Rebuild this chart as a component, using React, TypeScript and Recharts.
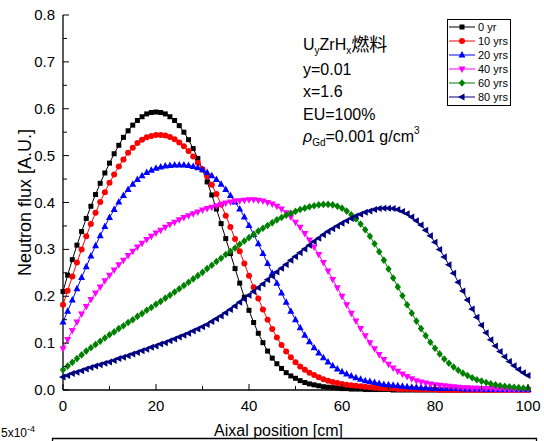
import React from 'react';
import { LineChart, Line, XAxis, YAxis, Legend } from 'recharts';

// axial position (cm), one sample per cm
const positions = [
  0, 1, 2, 3, 4, 5, 6, 7, 8, 9, 10, 11, 12, 13, 14, 15, 16, 17, 18, 19, 20,
  21, 22, 23, 24, 25, 26, 27, 28, 29, 30, 31, 32, 33, 34, 35, 36, 37, 38, 39, 40,
  41, 42, 43, 44, 45, 46, 47, 48, 49, 50, 51, 52, 53, 54, 55, 56, 57, 58, 59, 60,
  61, 62, 63, 64, 65, 66, 67, 68, 69, 70, 71, 72, 73, 74, 75, 76, 77, 78, 79, 80,
  81, 82, 83, 84, 85, 86, 87, 88, 89, 90, 91, 92, 93, 94, 95, 96, 97, 98, 99, 100,
];

const flux0yr = [
  0.210, 0.245, 0.278, 0.309, 0.338, 0.366, 0.392, 0.417, 0.441, 0.463,
  0.484, 0.504, 0.522, 0.539, 0.553, 0.565, 0.575, 0.583, 0.589, 0.592,
  0.593, 0.592, 0.589, 0.583, 0.575, 0.564, 0.550, 0.534, 0.515, 0.494,
  0.470, 0.444, 0.416, 0.386, 0.355, 0.323, 0.291, 0.259, 0.228, 0.198,
  0.170, 0.144, 0.121, 0.101, 0.083, 0.068, 0.056, 0.046, 0.037, 0.030,
  0.025, 0.020, 0.016, 0.013, 0.011, 0.009, 0.007, 0.006, 0.005, 0.004,
  0.003, 0.003, 0.002, 0.002, 0.002, 0.001, 0.001, 0.001, 0.001, 0.001,
  0.001, 0, 0, 0, 0, 0, 0, 0, 0, 0,
  0, 0, 0, 0, 0, 0, 0, 0, 0, 0,
  0, 0, 0, 0, 0, 0, 0, 0, 0, 0,
  0,
];

const flux10yr = [
  0.182, 0.212, 0.242, 0.272, 0.300, 0.328, 0.354, 0.378, 0.401, 0.422,
  0.442, 0.460, 0.477, 0.492, 0.506, 0.517, 0.527, 0.534, 0.539, 0.542,
  0.544, 0.544, 0.543, 0.540, 0.535, 0.528, 0.520, 0.510, 0.498, 0.485,
  0.471, 0.456, 0.438, 0.418, 0.396, 0.372, 0.348, 0.322, 0.296, 0.270,
  0.244, 0.219, 0.195, 0.172, 0.150, 0.130, 0.112, 0.096, 0.082, 0.070,
  0.059, 0.050, 0.043, 0.037, 0.032, 0.027, 0.023, 0.020, 0.017, 0.015,
  0.013, 0.011, 0.010, 0.009, 0.008, 0.007, 0.006, 0.005, 0.004, 0.004,
  0.003, 0.003, 0.002, 0.002, 0.002, 0.002, 0.001, 0.001, 0.001, 0.001,
  0.001, 0, 0, 0, 0, 0, 0, 0, 0, 0,
  0, 0, 0, 0, 0, 0, 0, 0, 0, 0,
  0,
];

const flux20yr = [
  0.145, 0.168, 0.192, 0.216, 0.240, 0.263, 0.286, 0.308, 0.329, 0.349,
  0.368, 0.385, 0.401, 0.415, 0.428, 0.439, 0.449, 0.457, 0.464, 0.469,
  0.473, 0.476, 0.478, 0.479, 0.480, 0.480, 0.480, 0.479, 0.477, 0.474,
  0.470, 0.464, 0.457, 0.449, 0.439, 0.428, 0.415, 0.401, 0.386, 0.369,
  0.351, 0.332, 0.312, 0.291, 0.270, 0.249, 0.228, 0.207, 0.187, 0.168,
  0.150, 0.133, 0.117, 0.103, 0.090, 0.079, 0.069, 0.060, 0.052, 0.045,
  0.039, 0.034, 0.030, 0.026, 0.023, 0.020, 0.018, 0.016, 0.014, 0.012,
  0.011, 0.010, 0.009, 0.008, 0.007, 0.006, 0.006, 0.005, 0.005, 0.004,
  0.004, 0.003, 0.003, 0.003, 0.003, 0.003, 0.002, 0.002, 0.002, 0.002,
  0.002, 0.001, 0.001, 0.001, 0.001, 0.001, 0.001, 0.001, 0.001, 0.001,
  0.001,
];

const flux40yr = [
  0.088, 0.108, 0.127, 0.145, 0.162, 0.178, 0.193, 0.207, 0.220, 0.233,
  0.245, 0.256, 0.267, 0.277, 0.287, 0.296, 0.305, 0.313, 0.321, 0.328,
  0.335, 0.341, 0.347, 0.353, 0.358, 0.363, 0.368, 0.372, 0.376, 0.380,
  0.384, 0.387, 0.390, 0.393, 0.396, 0.399, 0.401, 0.403, 0.404, 0.405,
  0.406, 0.406, 0.405, 0.403, 0.400, 0.397, 0.392, 0.386, 0.378, 0.369,
  0.358, 0.347, 0.334, 0.320, 0.305, 0.289, 0.272, 0.254, 0.236, 0.218,
  0.200, 0.182, 0.164, 0.147, 0.131, 0.116, 0.101, 0.088, 0.076, 0.065,
  0.055, 0.047, 0.040, 0.034, 0.029, 0.024, 0.020, 0.017, 0.015, 0.013,
  0.011, 0.010, 0.009, 0.008, 0.007, 0.006, 0.005, 0.005, 0.004, 0.004,
  0.003, 0.003, 0.003, 0.002, 0.002, 0.002, 0.001, 0.001, 0.001, 0.001,
  0.001,
];

const flux60yr = [
  0.043, 0.051, 0.059, 0.067, 0.075, 0.083, 0.090, 0.097, 0.104, 0.111,
  0.118, 0.124, 0.131, 0.137, 0.144, 0.150, 0.157, 0.163, 0.170, 0.176,
  0.183, 0.189, 0.196, 0.202, 0.209, 0.216, 0.223, 0.230, 0.237, 0.244,
  0.251, 0.259, 0.266, 0.274, 0.281, 0.289, 0.296, 0.303, 0.311, 0.318,
  0.325, 0.332, 0.339, 0.345, 0.351, 0.357, 0.363, 0.368, 0.373, 0.377,
  0.381, 0.385, 0.388, 0.391, 0.393, 0.395, 0.396, 0.396, 0.395, 0.392,
  0.388, 0.382, 0.374, 0.365, 0.354, 0.342, 0.328, 0.312, 0.295, 0.277,
  0.258, 0.239, 0.220, 0.201, 0.182, 0.164, 0.147, 0.131, 0.116, 0.102,
  0.089, 0.077, 0.066, 0.057, 0.049, 0.042, 0.036, 0.031, 0.026, 0.022,
  0.019, 0.016, 0.013, 0.011, 0.009, 0.008, 0.007, 0.006, 0.005, 0.004,
  0.004,
];

const flux80yr = [
  0.028, 0.031, 0.035, 0.038, 0.041, 0.045, 0.048, 0.051, 0.054, 0.057,
  0.060, 0.063, 0.067, 0.070, 0.073, 0.077, 0.080, 0.084, 0.087, 0.091,
  0.094, 0.098, 0.101, 0.105, 0.109, 0.113, 0.117, 0.121, 0.126, 0.130,
  0.135, 0.140, 0.146, 0.152, 0.158, 0.165, 0.172, 0.179, 0.187, 0.194,
  0.202, 0.210, 0.218, 0.226, 0.235, 0.243, 0.252, 0.260, 0.268, 0.277,
  0.285, 0.293, 0.301, 0.309, 0.317, 0.324, 0.331, 0.338, 0.344, 0.350,
  0.356, 0.361, 0.366, 0.371, 0.375, 0.379, 0.382, 0.385, 0.387, 0.388,
  0.388, 0.387, 0.385, 0.381, 0.376, 0.369, 0.361, 0.352, 0.341, 0.329,
  0.315, 0.300, 0.284, 0.267, 0.249, 0.230, 0.211, 0.192, 0.173, 0.155,
  0.138, 0.122, 0.107, 0.094, 0.082, 0.071, 0.061, 0.052, 0.044, 0.037,
  0.031,
];

const xTicks = [0, 10, 20, 30, 40, 50, 60, 70, 80, 90, 100];
const yTicks = [0, 0.05, 0.1, 0.15, 0.2, 0.25, 0.3, 0.35, 0.4, 0.45, 0.5, 0.55, 0.6, 0.65, 0.7, 0.75, 0.8];

const series = [
  { key: 'y0', name: '0 yr', color: '#000000', shape: 'square', values: flux0yr },
  { key: 'y10', name: '10 yrs', color: '#ff0000', shape: 'circle', values: flux10yr },
  { key: 'y20', name: '20 yrs', color: '#0000ff', shape: 'up', values: flux20yr },
  { key: 'y40', name: '40 yrs', color: '#ff00ff', shape: 'down', values: flux40yr },
  { key: 'y60', name: '60 yrs', color: '#008000', shape: 'diamond', values: flux60yr },
  { key: 'y80', name: '80 yrs', color: '#000080', shape: 'left', values: flux80yr },
];

const data = positions.map((pos, i) => {
  const row: Record<string, number> = { pos };
  series.forEach((s) => {
    row[s.key] = s.values[i];
  });
  return row;
});

const FONT = "'Liberation Sans', Arial, 'Noto Sans CJK JP', sans-serif";

function Marker({ shape, cx, cy, color }: { shape: string; cx: number; cy: number; color: string }) {
  switch (shape) {
    case 'square':
      return <rect x={cx - 2.5} y={cy - 2.5} width={5} height={5} fill={color} />;
    case 'circle':
      return <circle cx={cx} cy={cy} r={3} fill={color} />;
    case 'up':
      return <polygon points={`${cx},${cy - 4} ${cx - 3.5},${cy + 2.5} ${cx + 3.5},${cy + 2.5}`} fill={color} />;
    case 'down':
      return <polygon points={`${cx},${cy + 4} ${cx - 3.5},${cy - 2.5} ${cx + 3.5},${cy - 2.5}`} fill={color} />;
    case 'diamond':
      return <polygon points={`${cx},${cy - 3.8} ${cx + 3.2},${cy} ${cx},${cy + 3.8} ${cx - 3.2},${cy}`} fill={color} />;
    default:
      return <polygon points={`${cx - 4},${cy} ${cx + 2.5},${cy - 3.5} ${cx + 2.5},${cy + 3.5}`} fill={color} />;
  }
}

const isMajorX = (v: number) => v % 20 === 0;
const isMajorY = (v: number) => Math.round(v * 100) % 10 === 0;

const BottomTick = ({ x, y, payload }: any) => {
  const major = isMajorX(payload.value);
  return (
    <g>
      <line x1={x} x2={x} y1={y} y2={y - (major ? 6 : 4)} stroke="#000" />
      {major && (
        <text x={x} y={y + 21} textAnchor="middle" fontSize={15} fill="#000">
          {payload.value}
        </text>
      )}
    </g>
  );
};

const TopTick = ({ x, y, payload }: any) => {
  const major = isMajorX(payload.value);
  return <line x1={x} x2={x} y1={y} y2={y + (major ? 6 : 4)} stroke="#000" />;
};

const LeftTick = ({ x, y, payload }: any) => {
  const major = isMajorY(payload.value);
  return (
    <g>
      <line x1={x} x2={x + (major ? 6 : 4)} y1={y} y2={y} stroke="#000" />
      {major && (
        <text x={x - 8} y={y + 5} textAnchor="end" fontSize={15} fill="#000">
          {payload.value.toFixed(1)}
        </text>
      )}
    </g>
  );
};

const RightTick = ({ x, y, payload }: any) => {
  const major = isMajorY(payload.value);
  return <line x1={x} x2={x - (major ? 6 : 4)} y1={y} y2={y} stroke="#000" />;
};

const LegendBox = () => (
  <div
    style={{
      border: '1px solid #000',
      background: '#fff',
      width: 62,
      padding: '0 0 1px 0',
      fontFamily: FONT,
      fontSize: 11,
      color: '#000',
    }}
  >
    {series.map((s) => (
      <div key={s.key} style={{ display: 'flex', alignItems: 'center', height: 14 }}>
        <svg width={30} height={14} style={{ display: 'block' }}>
          <line x1={1} x2={27} y1={7} y2={7} stroke={s.color} strokeWidth={1} />
          <Marker shape={s.shape} cx={14} cy={7} color={s.color} />
        </svg>
        <span style={{ lineHeight: '14px' }}>{s.name}</span>
      </div>
    ))}
  </div>
);

const sub = { fontSize: 10, position: 'relative' as const, top: 4 };
const sup = { fontSize: 10, position: 'relative' as const, top: -8 };

export default function App() {
  const axisLine = { stroke: '#000', strokeWidth: 1.3 };
  return (
    <div
      style={{
        position: 'absolute',
        left: 0,
        top: 0,
        width: 544,
        height: 441,
        background: '#fff',
        overflow: 'hidden',
        fontFamily: FONT,
      }}
    >
      <LineChart width={544} height={441} data={data} margin={{ top: 15, right: 16, bottom: 0, left: 0 }}>
        <XAxis
          dataKey="pos"
          type="number"
          domain={[0, 100]}
          ticks={xTicks}
          interval={0}
          height={51}
          tickSize={0}
          tickMargin={0}
          tickLine={false}
          axisLine={axisLine}
          tick={<BottomTick />}
          label={{ value: 'Aixal position [cm]', position: 'insideBottom', offset: 5, dx: -17, fontSize: 16, fill: '#000' }}
        />
        <XAxis
          xAxisId="top"
          orientation="top"
          type="number"
          domain={[0, 100]}
          ticks={xTicks}
          interval={0}
          height={0}
          tickSize={0}
          tickMargin={0}
          tickLine={false}
          axisLine={axisLine}
          tick={<TopTick />}
        />
        <YAxis
          type="number"
          domain={[0, 0.8]}
          ticks={yTicks}
          interval={0}
          width={63}
          tickSize={0}
          tickMargin={0}
          tickLine={false}
          axisLine={axisLine}
          tick={<LeftTick />}
          label={{
            value: 'Neutron flux [A.U.]',
            angle: -90,
            position: 'insideLeft',
            offset: 25,
            fontSize: 18,
            fill: '#000',
            style: { textAnchor: 'middle' },
          }}
        />
        <YAxis
          yAxisId="right"
          orientation="right"
          type="number"
          domain={[0, 0.8]}
          ticks={yTicks}
          interval={0}
          width={0}
          tickSize={0}
          tickMargin={0}
          tickLine={false}
          axisLine={axisLine}
          tick={<RightTick />}
        />
        {series.map((s) => (
          <Line
            key={s.key}
            type="linear"
            dataKey={s.key}
            name={s.name}
            stroke={s.color}
            strokeWidth={1}
            isAnimationActive={false}
            dot={(p: any) => <Marker key={`${s.key}-${p.index}`} shape={s.shape} cx={p.cx} cy={p.cy} color={s.color} />}
            activeDot={false}
          />
        ))}
        <Legend
          layout="horizontal"
          verticalAlign="middle"
          align="center"
          content={() => <LegendBox />}
          wrapperStyle={{ left: 447, top: 19, width: 'auto' }}
        />
      </LineChart>

      <div
        style={{
          position: 'absolute',
          left: 303,
          top: 34,
          fontSize: 16,
          lineHeight: '22.5px',
          color: '#000',
          whiteSpace: 'nowrap',
        }}
      >
        <div>
          U<span style={sub}>y</span>ZrH<span style={sub}>x</span>
          <span style={{ fontFamily: "'Noto Sans CJK JP', sans-serif", fontSize: 18, lineHeight: 0, position: 'relative', top: 1 }}>燃料</span>
        </div>
        <div>y=0.01</div>
        <div>x=1.6</div>
        <div>EU=100%</div>
        <div>
          <span style={{ fontStyle: 'italic' }}>ρ</span>
          <span style={sub}>Gd</span>=0.001 g/cm<span style={sup}>3</span>
        </div>
      </div>

      <div
        style={{
          position: 'absolute',
          left: 1,
          top: 427,
          fontSize: 12,
          lineHeight: '12px',
          color: '#000',
          whiteSpace: 'nowrap',
        }}
      >
        5x10<span style={{ fontSize: 9, position: 'relative', top: -5 }}>-4</span>
      </div>
      <svg style={{ position: 'absolute', left: 0, top: 430 }} width={544} height={11}>
        <line x1={52} x2={537} y1={8.5} y2={8.5} stroke="#000" strokeWidth={1.3} />
        <line x1={52.5} x2={52.5} y1={8} y2={11} stroke="#000" strokeWidth={1.3} />
        <line x1={536.5} x2={536.5} y1={8} y2={11} stroke="#000" strokeWidth={1.3} />
      </svg>
    </div>
  );
}
